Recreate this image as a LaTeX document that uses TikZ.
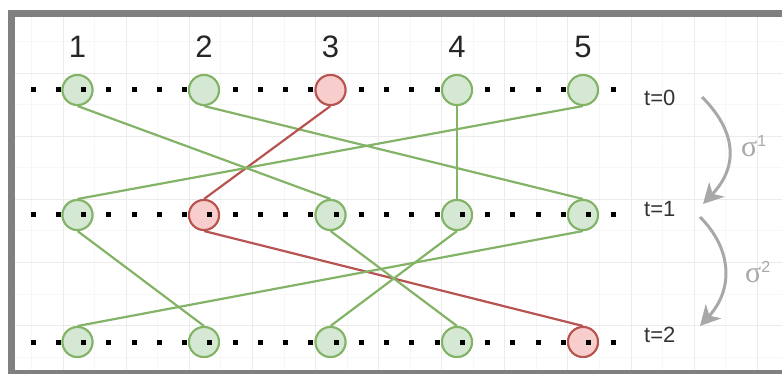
\documentclass[tikz,border=0pt]{standalone}
\usepackage{fontspec}
\setmainfont{Liberation Sans}
\newfontfamily\serifgr{Liberation Serif}
\usetikzlibrary{arrows.meta}
\definecolor{gfill}{HTML}{D5E8D4}
\definecolor{gline}{HTML}{82B366}
\definecolor{rfill}{HTML}{F8CECC}
\definecolor{rline}{HTML}{B85450}
\definecolor{framec}{HTML}{808080}
\definecolor{gridc}{HTML}{EBEBEB}
\definecolor{gridm}{HTML}{F7F7F7}
\definecolor{arrc}{HTML}{A8A8A8}
\begin{document}
\begin{tikzpicture}[x=1pt,y=-1pt,
  gnode/.style={circle, draw=gline, fill=gfill, line width=2pt, minimum size=30pt, inner sep=0pt},
  rnode/.style={circle, draw=rline, fill=rfill, line width=2pt, minimum size=30pt, inner sep=0pt},
  gedge/.style={draw=gline, line width=2.2pt},
  redge/.style={draw=rline, line width=2.2pt},
  dotsq/.style={fill=black},
  collabel/.style={font=\fontsize{31}{31}\selectfont, text=black!85},
  tlabel/.style={font=\fontsize{22}{22}\selectfont, text=black!80, anchor=west, inner sep=0pt},
  siglabel/.style={text=arrc, inner sep=0pt},
  sigarrow/.style={draw=arrc, line width=3pt, -{Stealth[length=20pt,width=21pt,inset=6pt]}}
]
\useasboundingbox (0,0) rectangle (782,374);
% grid
\begin{scope}
\clip (15,17) rectangle (782,370);
\foreach \i in {0,...,12} {
  \draw[gridm, line width=0.8pt] ({63.1*\i+31.55},0) -- ({63.1*\i+31.55},374);
}
\foreach \j in {0,...,6} {
  \draw[gridm, line width=0.8pt] (0,{10+63.1*\j+31.55}) -- (782,{10+63.1*\j+31.55});
}
\foreach \i in {1,...,12} {
  \draw[gridc, line width=1pt] ({63.1*\i},0) -- ({63.1*\i},374);
}
\foreach \j in {1,...,5} {
  \draw[gridc, line width=1pt] (0,{10+63.1*\j}) -- (782,{10+63.1*\j});
}
\end{scope}
% frame
\draw[framec, line width=7pt] (11.5,13.5) rectangle (792,373.5);
% row 0 dots (below nodes)
\foreach \k in {0,...,23} {
  \fill[dotsq] ({33+25.25*\k-2.5},87.5) rectangle ({33+25.25*\k+2.5},92.5);
}
% nodes
\node[gnode] (a1) at (77.5,90) {};
\node[gnode] (a2) at (204,90) {};
\node[rnode] (a3) at (330.5,90) {};
\node[gnode] (a4) at (457,90) {};
\node[gnode] (a5) at (583,90) {};
\node[gnode] (b1) at (77.5,215) {};
\node[rnode] (b2) at (204,215) {};
\node[gnode] (b3) at (330.5,215) {};
\node[gnode] (b4) at (457,215) {};
\node[gnode] (b5) at (583,215) {};
\node[gnode] (c1) at (77.5,342) {};
\node[gnode] (c2) at (204,342) {};
\node[gnode] (c3) at (330.5,342) {};
\node[gnode] (c4) at (457,342) {};
\node[rnode] (c5) at (583,342) {};
% edges
\draw[gedge] (a1.south) -- (b3.north);
\draw[gedge] (a2.south) -- (b5.north);
\draw[redge] (a3.south) -- (b2.north);
\draw[gedge] (a4.south) -- (b4.north);
\draw[gedge] (a5.south) -- (b1.north);
\draw[gedge] (b1.south) -- (c2.north);
\draw[redge] (b2.south) -- (c5.north);
\draw[gedge] (b3.south) -- (c4.north);
\draw[gedge] (b4.south) -- (c3.north);
\draw[gedge] (b5.south) -- (c1.north);
% redraw nodes above edges
\node[gnode] at (a1) {};
\node[gnode] at (a2) {};
\node[rnode] at (a3) {};
\node[gnode] at (a4) {};
\node[gnode] at (a5) {};
\node[gnode] at (b1) {};
\node[rnode] at (b2) {};
\node[gnode] at (b3) {};
\node[gnode] at (b4) {};
\node[gnode] at (b5) {};
\node[gnode] at (c1) {};
\node[gnode] at (c2) {};
\node[gnode] at (c3) {};
\node[gnode] at (c4) {};
\node[rnode] at (c5) {};
% dots above nodes
\fill[dotsq] ({33+25.25*2-2.5},87.5) rectangle ({33+25.25*2+2.5},92.5);
\foreach \yy in {215,342} {
  \foreach \k in {0,...,23} {
    \fill[dotsq] ({33+25.25*\k-2.5},{\yy-2.5}) rectangle ({33+25.25*\k+2.5},{\yy+2.5});
  }
}
% column labels
\node[collabel] (n1) at (77.5,47) {1};
\node[collabel] (n2) at (204,47) {2};
\node[collabel] (n3) at (330.5,47) {3};
\node[collabel] (n4) at (457,47) {4};
\node[collabel] (n5) at (583,47) {5};
% time labels
\node[tlabel] (t0) at (644,98) {t=0};
\node[tlabel] (t1) at (644,209) {t=1};
\node[tlabel] (t2) at (644,335) {t=2};
% sigma arrows
\coordinate (s1a) at (702,97);
\coordinate (s1b) at (703,204);
\coordinate (s2a) at (700,217);
\coordinate (s2b) at (700,326);
\draw[sigarrow] (s1a) .. controls (735,130) and (740,165) .. (s1b);
\draw[sigarrow] (s2a) .. controls (733,250) and (733,290) .. (s2b);
\node[siglabel, anchor=west] (sg1) at (741,146) {{\serifgr\fontsize{30}{30}\selectfont σ}\raisebox{10pt}{\fontsize{16}{16}\selectfont 1}};
\node[siglabel, anchor=west] (sg2) at (745,272) {{\serifgr\fontsize{30}{30}\selectfont σ}\raisebox{10pt}{\fontsize{16}{16}\selectfont 2}};
\end{tikzpicture}
\end{document}
